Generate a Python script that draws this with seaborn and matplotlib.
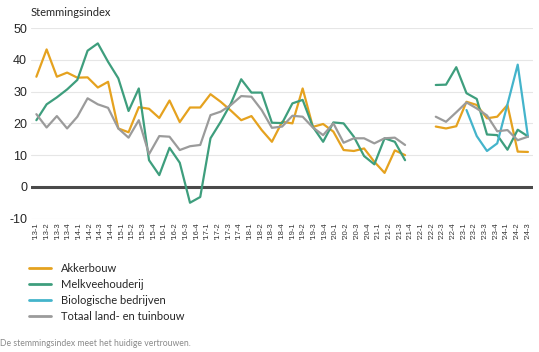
import numpy as np
import pandas as pd
import seaborn as sns
from matplotlib import pyplot as plt

# Quarter labels on the x axis
quarters = [f"'{y}-{q}" for y in range(13, 25) for q in range(1, 5)][:47]

# Values per point (49 points, nan = no data)
nan = np.nan
akkerbouw = [34.7, 43.3, 34.7, 36.0, 34.4, 34.5, 31.3, 33.1, 18.4, 17.2,
             25.1, 24.6, 21.7, 27.2, 20.4, 25.0, 25.0, 29.2, 26.8, 24.0,
             21.0, 22.3, 17.9, 14.2, 20.5, 20.0, 31.0, 18.9, 19.8, 17.4,
             11.6, 11.3, 12.1, 7.9, 4.4, 11.5, 10.0, nan, nan, 19.0,
             18.4, 19.1, 26.8, 25.8, 21.6, 22.1, 25.8, 11.1, 11.0]
melkvee = [21.0, 26.0, 28.2, 30.7, 33.7, 42.9, 45.2, 39.4, 34.2, 23.9,
           31.0, 8.4, 3.7, 12.3, 7.6, -5.0, -3.2, 15.3, 20.5, 26.3,
           33.9, 29.7, 29.7, 20.2, 20.1, 26.3, 27.4, 18.9, 14.2, 20.3,
           20.0, 15.8, 9.7, 7.1, 15.3, 14.2, 8.4, nan, nan, 32.1,
           32.2, 37.7, 29.5, 27.7, 16.5, 16.3, 11.7, 18.0, 15.9]
biologisch = [nan] * 42 + [24.2, 16.0, 11.3, 13.7, 26.0, 38.5, 15.8]
totaal = [22.9, 18.7, 22.3, 18.4, 22.1, 27.9, 26.0, 24.9, 18.4, 15.5,
          21.0, 10.3, 16.0, 15.8, 11.6, 12.8, 13.2, 22.6, 23.7, 25.8,
          28.6, 28.4, 24.2, 18.6, 19.0, 22.4, 22.1, 18.7, 16.3, 20.0,
          13.9, 15.3, 15.3, 13.7, 15.3, 15.5, 13.2, nan, nan, 22.1,
          20.5, 23.5, 26.6, 24.7, 22.5, 17.5, 17.9, 14.7, 15.8]

series = {
    'Akkerbouw': akkerbouw,
    'Melkveehouderij': melkvee,
    'Biologische bedrijven': biologisch,
    'Totaal land- en tuinbouw': totaal,
}
colors = ['#E5A21F', '#3E9E7D', '#44B4CB', '#9B9B9B']

# Long table; a new segment starts after each gap so lines break there
rows = []
for name, values in series.items():
    seg = 0
    for i, v in enumerate(values):
        if np.isnan(v):
            seg += 1
            continue
        rows.append({'x': i, 'value': v, 'series': name, 'segment': seg})
df = pd.DataFrame(rows)

sns.set_style('white')
plt.rcParams['font.family'] = ['Lato', 'DejaVu Sans']

fig = plt.figure(figsize=(5.39, 3.52), dpi=100)
ax = fig.add_axes([0.058, 0.379, 0.931, 0.541])

for y in [-10, 10, 20, 30, 40, 50]:
    ax.axhline(y, color='#e6e6e6', lw=0.8, zorder=0)
ax.axhline(0, color='#4a4a4a', lw=2.2, zorder=1)

sns.lineplot(data=df, x='x', y='value', hue='series', units='segment',
             estimator=None, palette=colors, hue_order=list(series),
             lw=1.6, ax=ax, legend=True)

ax.set_xlim(-0.5, 48.5)
ax.set_ylim(-10, 50)
ax.set_yticks([-10, 0, 10, 20, 30, 40, 50])
ax.set_yticklabels(['-10', '0', '10', '20', '30', '40', '50'],
                   fontsize=9, family=['Liberation Sans'])
ax.set_xticks(np.linspace(0, 48, len(quarters)))
ax.set_xticklabels(quarters, rotation=90, fontsize=5.5,
                   family=['Liberation Sans'], color='#333333')
ax.tick_params(axis='both', length=0, pad=3)
ax.set_xlabel('')
ax.set_ylabel('')
sns.despine(ax=ax, left=True, bottom=True)

handles, labels = ax.get_legend_handles_labels()
ax.legend_.remove()
for h in handles:
    h.set_linewidth(2)
fig.legend(handles, labels, loc='upper left', bbox_to_anchor=(0.045, 0.265),
           frameon=False, fontsize=8, handlelength=2.0, handletextpad=0.9,
           labelspacing=0.45, borderaxespad=0)

fig.text(0.057, 0.965, 'Stemmingsindex', fontsize=8, va='center')
fig.text(0.0, 0.025, 'De stemmingsindex meet het huidige vertrouwen.',
         fontsize=6.2, color='#8a8a8a', va='center')

fig.savefig('out.png', dpi=100)
